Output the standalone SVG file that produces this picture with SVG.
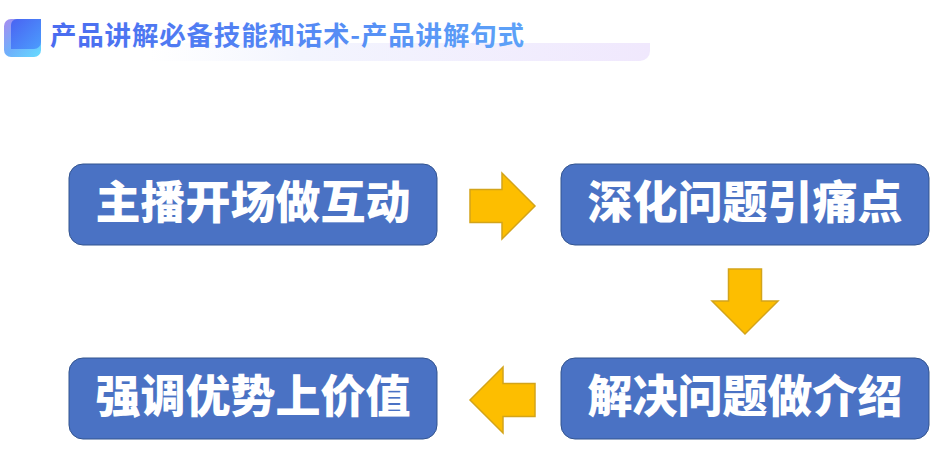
<svg xmlns="http://www.w3.org/2000/svg" width="944" height="476" viewBox="0 0 944 476">
<defs>
<linearGradient id="bar" x1="0" y1="0" x2="1" y2="0"><stop offset="0" stop-color="#f4f6fe" stop-opacity="0"/><stop offset="0.3" stop-color="#f3f5fe"/><stop offset="1" stop-color="#f0e8fd"/></linearGradient>
<linearGradient id="title" x1="50" y1="0" x2="524" y2="0" gradientUnits="userSpaceOnUse"><stop offset="0" stop-color="#4a6cf0"/><stop offset="1" stop-color="#5da2f8"/></linearGradient>
<linearGradient id="ic1" x1="0" y1="0" x2="1" y2="1"><stop offset="0" stop-color="#a98cf0"/><stop offset="0.5" stop-color="#6fb0fb"/><stop offset="1" stop-color="#66dcff"/></linearGradient>
<linearGradient id="ic2" x1="0" y1="0" x2="1" y2="1"><stop offset="0" stop-color="#4a63f2"/><stop offset="1" stop-color="#4b9dfd"/></linearGradient>
<style>
.box{fill:#4a72c4;stroke:#33548f;stroke-width:1}
.lbl{font-family:"Noto Sans CJK SC","Noto Sans",sans-serif;font-weight:900;font-size:45px;fill:#fff;text-anchor:middle}
.arr{fill:#fdbe00;stroke:#d3a41a;stroke-width:1.500}
.ttl{font-family:"Noto Sans CJK SC","Noto Sans",sans-serif;font-weight:700;font-size:26.500px;fill:url(#title)}
</style>
</defs>
<rect width="944" height="476" fill="#fff"/>
<g id="header">
<path d="M150 43H650V51a10 10 0 0 1-10 10H150Z" fill="url(#bar)"/>
<rect x="4" y="19" width="37" height="38" rx="7" fill="url(#ic1)"/>
<path d="M17 19H41V42a7 7 0 0 1-7 7H11V25a6 6 0 0 1 6-6Z" fill="url(#ic2)"/>
<text class="ttl" x="50" y="45" textLength="474" lengthAdjust="spacing">产品讲解必备技能和话术-产品讲解句式</text>
</g>
<g id="node-1"><rect class="box" x="69" y="164" width="368" height="81" rx="14"/><text class="lbl" x="253" y="219">主播开场做互动</text></g>
<g id="node-2"><rect class="box" x="561" y="164" width="368" height="81" rx="14"/><text class="lbl" x="745" y="219">深化问题引痛点</text></g>
<g id="node-3"><rect class="box" x="561" y="358" width="368" height="81" rx="14"/><text class="lbl" x="745" y="413">解决问题做介绍</text></g>
<g id="node-4"><rect class="box" x="69" y="358" width="368" height="81" rx="14"/><text class="lbl" x="253" y="413">强调优势上价值</text></g>
<g id="connectors">
<path class="arr" d="M470 189.500H502V173L535 206L502 239V222.500H470Z"/>
<path class="arr" d="M728.500 269H761.500V301H778L745 334L712 301H728.500Z"/>
<path class="arr" d="M535 383.500H503V367L470 400L503 433V416.500H535Z"/>
</g>
</svg>
